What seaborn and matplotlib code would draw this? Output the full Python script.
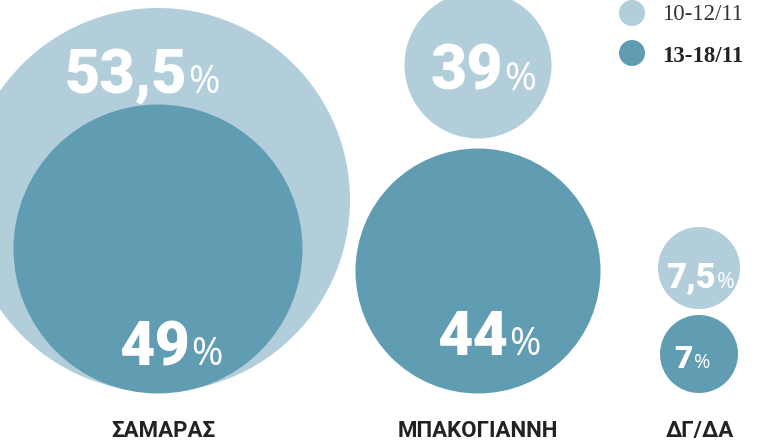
import pandas as pd
import seaborn as sns
import matplotlib.pyplot as plt

# DATE
candidates = ["ΣΑΜΑΡΑΣ", "ΜΠΑΚΟΓΙΑΝΝΗ", "ΔΓ/ΔΑ"]
periods = ["10-12/11", "13-18/11"]
vals_first = [53.5, 39, 7.5]
vals_second = [49, 44, 7]

# ASEZARE (pixeli)
col_x = [158, 478, 699]
r_first = [192, 73.5, 41]
r_second = [144.5, 122.5, 39]
y_first = [200, 65, 268]
y_second = [249, 271, 354]
lab_x_first = [187, 503, 716]
lab_y_first = [93, 90, 288]
lab_x_second = [190, 508, 693]
lab_y_second = [365, 355, 368]
fs_first = [44, 45, 25]
fs_second = [44, 44, 23]

light = "#b3cedb"
dark = "#609cb2"

rows = []
for i, c in enumerate(candidates):
    rows.append(dict(cand=c, period=periods[0], val=vals_first[i], x=col_x[i], y=y_first[i], r=r_first[i]))
    rows.append(dict(cand=c, period=periods[1], val=vals_second[i], x=col_x[i], y=y_second[i], r=r_second[i]))
df = pd.DataFrame(rows)
df["s"] = (2 * df["r"] * 72 / 100) ** 2

sns.set_style("white")
fig = plt.figure(figsize=(7.65, 4.46), dpi=100)
ax = fig.add_axes([0, 0, 1, 1])

for p, col, z in [(periods[0], light, 1), (periods[1], dark, 2)]:
    d = df[df["period"] == p]
    sns.scatterplot(data=d, x="x", y="y", s=d["s"].values, color=col,
                    linewidth=0, ax=ax, zorder=z, legend=False)

ax.set_xlim(0, 765)
ax.set_ylim(446, 0)
ax.axis("off")

def fmt(v):
    return f"{v:g}".replace(".", ",")

for vals, lx, ly, fs in [(vals_first, lab_x_first, lab_y_first, fs_first),
                         (vals_second, lab_x_second, lab_y_second, fs_second)]:
    for v, x, y, f in zip(vals, lx, ly, fs):
        ax.text(x, y, fmt(v), color="white", fontsize=f, fontweight="black",
                family="Roboto", ha="right", va="baseline", zorder=5)
        ax.text(x + 1, y, "%", color="white", fontsize=f * 0.62,
                family="Open Sans", ha="left", va="baseline", zorder=5)

# ETICHETE CANDIDATI
for c, x in zip(candidates, [163, 478, 700]):
    ax.text(x, 437, c, color="#222222", fontsize=16, fontweight="bold",
            family="Roboto", ha="center", va="baseline")

# LEGENDA
ax.scatter([632, 632], [13, 53], s=(2 * 13 * 0.72) ** 2, c=[light, dark], linewidths=0)
ax.text(662, 20, periods[0], fontsize=16.5, color="#333333", family="Liberation Serif",
        ha="left", va="baseline")
ax.text(662, 62, periods[1], fontsize=16.5, color="#222222", family="Liberation Serif",
        fontweight="bold", ha="left", va="baseline")

fig.savefig("out.png", dpi=100)
